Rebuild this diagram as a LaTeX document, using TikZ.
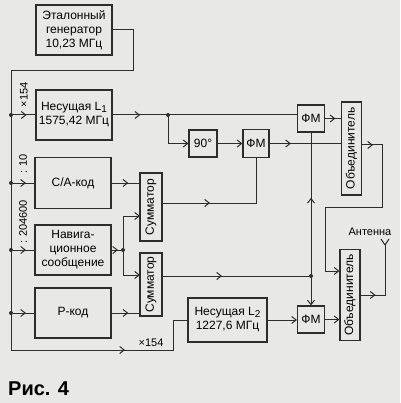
\documentclass[tikz,border=0pt]{standalone}
\usepackage{fontspec}
\setmainfont{Liberation Sans}
\usetikzlibrary{arrows.meta,decorations.markings,calc}
\definecolor{bg}{RGB}{232,232,230}
\definecolor{ln}{RGB}{45,45,45}
\newcommand{\subone}[1]{\raisebox{-2pt}{\fontsize{10}{10}\selectfont #1}}
\begin{document}
\begin{tikzpicture}[x=1pt,y=-1pt,
  >={Straight Barb[length=4.5pt,width=7pt]},
  blk/.style={draw=ln,line width=1.1pt,inner sep=1pt,align=center,font=\fontsize{12}{14}\selectfont},
  rtxt/.style={rotate=90,inner sep=0pt,font=\fontsize{12}{13}\selectfont},
  con/.style={draw=ln,line width=1pt},
  marr/.style={postaction={decorate},decoration={markings,mark=at position #1 with {\arrow{Straight Barb[length=4.5pt,width=7pt]}}}},
  dot/.style={circle,fill=ln,inner sep=0pt,minimum size=4pt},
  lbl/.style={inner sep=0pt,font=\fontsize{11}{12}\selectfont}]
\fill[bg] (0,0) rectangle (400,403);
\useasboundingbox (0,0) rectangle (400,403);

% blocks
\node[blk,minimum width=76,minimum height=50] (gen) at (74,30) {Эталонный\\генератор\\10,23 МГц};
\node[blk,minimum width=76,minimum height=50] (L1) at (74,115) {Несущая L\subone{1}\\1575,42 МГц};
\node[blk,minimum width=76,minimum height=51] (ca) at (73,183) {С/А-код};
\node[blk,minimum width=76,minimum height=50] (nav) at (73,250) {Навига-\\ционное\\сообщение};
\node[blk,minimum width=76,minimum height=50] (pk) at (73,313) {Р-код};
\node[blk,minimum width=22,minimum height=68] (sum1) at (151,207) {};
\node[rtxt] (sum1t) at (sum1) {Сумматор};
\node[blk,minimum width=22,minimum height=63] (sum2) at (151,284.5) {};
\node[rtxt] (sum2t) at (sum2) {Сумматор};
\node[blk,minimum width=28,minimum height=27] (ph90) at (203,143.5) {90°};
\node[blk,minimum width=26,minimum height=28] (fm2) at (256,143.5) {ФМ};
\node[blk,minimum width=27,minimum height=27] (fm1) at (311,118.5) {ФМ};
\node[blk,minimum width=20,minimum height=93] (obj1) at (351.5,148.5) {};
\node[rtxt] (obj1t) at (obj1) {Объединитель};
\node[blk,minimum width=20,minimum height=91] (obj2) at (350,295) {};
\node[rtxt] (obj2t) at (obj2) {Объединитель};
\node[blk,minimum width=79,minimum height=44] (L2) at (227.5,320) {Несущая L\subone{2}\\1227,6 МГц};
\node[blk,minimum width=27,minimum height=27] (fm3) at (311,319.5) {ФМ};

% coordinates
\coordinate (g1) at (133,71);
\coordinate (busT) at (11,71);
\coordinate (busB) at (11,350);
\coordinate (b2) at (173,350);
\coordinate (b3) at (173,320);
\node[dot] (d1) at (11,115) {};
\node[dot] (d2) at (11,183) {};
\node[dot] (d3) at (11,250) {};
\node[dot] (d4) at (11,313) {};
\node[dot] (d5) at (168,115) {};
\node[dot] (d6) at (311,276) {};
\node[dot] (d7) at (123,250) {};
\coordinate (s1o) at (162,203);
\coordinate (s2o) at (162,276);
\coordinate (s1i2) at (140,216);
\coordinate (s2i1) at (140,275);
\coordinate (o1o) at (361,145);
\coordinate (r1) at (382,145);
\coordinate (r2) at (382,207);
\coordinate (r3) at (325,207);
\coordinate (r4) at (325,271);
\coordinate (ant) at (385,245);

% reference bus
\draw[con] (gen.east) -| (g1) -- (busT) -- (busB);
\draw[con,marr=114pt] (busB) -- (b2) -- (b3) -- (b3 -| L2.west);
\draw[con,marr=0.6] (d1) -- (d1 -| L1.west);
\draw[con,marr=0.6] (d2) -- (d2 -| ca.west);
\draw[con,marr=0.6] (d3) -- (d3 -| nav.west);
\draw[con,marr=0.6] (d4) -- (d4 -| pk.west);

% L1 path
\draw[con,marr=0.15] (L1.east) -- (L1.east -| fm1.west);
\draw[con,->] (d5) |- (ph90.west);
\draw[con,->] (ph90.east) -- (ph90.east -| fm2.west);
\draw[con,marr=0.3] (fm2.east) -- (fm2.east -| obj1.west);
\draw[con,marr=0.65] (fm1.east) -- (fm1.east -| obj1.west);

% codes to summators
\draw[con,marr=0.6] (ca.east) -- (ca.east -| sum1.west);
\draw[con,marr=0.7] (nav.east) -- (d7);
\draw[con,->] (d7) |- (s1i2);
\draw[con,->] (d7) |- (s2i1);
\draw[con,marr=0.6] (pk.east) -- (pk.east -| sum2.west);

% summator outputs
\draw[con,marr=48pt] (s1o) -| (fm2.south);
\draw[con,marr=60pt] (s2o) -- (d6);
\draw[con,marr=76pt] (d6) -- (fm1.south);
\draw[con,->] (d6) -- (fm3.north);

% L2 path
\draw[con,->] (L2.east) -- (L2.east -| fm3.west);
\draw[con,->] (fm3.east) -- (fm3.east -| obj2.west);

% combiner chain
\draw[con,marr=12pt,->] (o1o) -- (r1) -- (r2) -- (r3) -- (r4) -- (r4 -| obj2.west);
\draw[con,marr=15pt] (obj2.east) -| (ant);
\draw[con] (ant) -- ++(-4,-6);
\draw[con] (ant) -- ++(4,-6);

% labels
\node[lbl,rotate=90] (lab154) at (24,95) {×154};
\node[lbl,rotate=90] (lab10) at (23,164) {: 10};
\node[lbl,rotate=90] (lab2046) at (23,222) {: 204600};
\node[lbl] (lab154b) at (151,343) {×154};
\node[lbl] (antl) at (370,232) {Антенна};
\node[anchor=base west,inner sep=0pt,font=\bfseries\fontsize{20}{22}\selectfont] (fig) at (8,395) {Рис. 4};
\end{tikzpicture}
\end{document}
